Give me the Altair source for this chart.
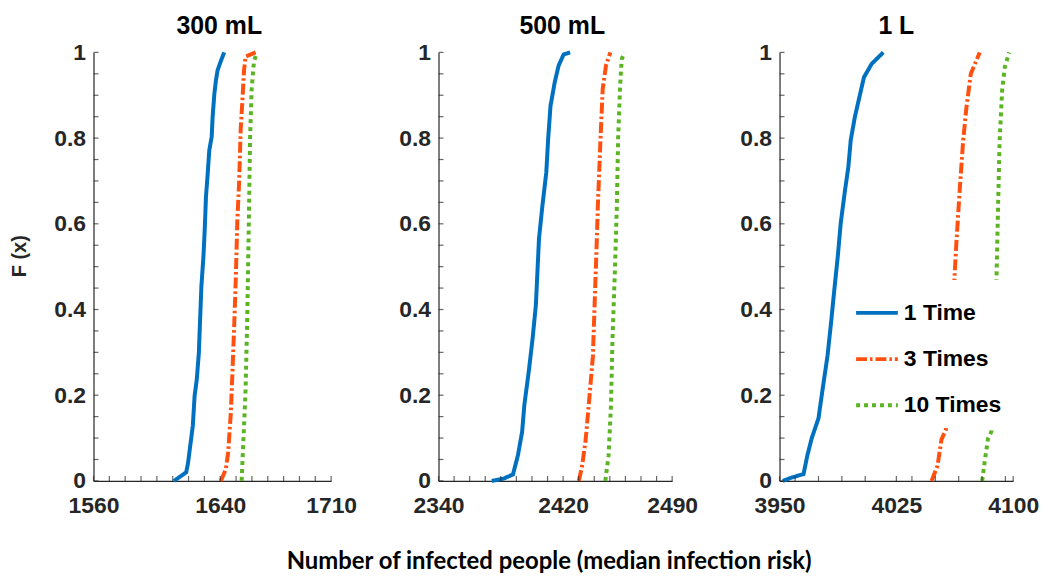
import altair as alt
import pandas as pd

# ---------------- data ----------------
panels = ["300 mL", "500 mL", "1 L"]
series = ["1 Time", "3 Times", "10 Times"]

# 300 mL
p1_one_x = [1610.8, 1618.5, 1619.6, 1622.7, 1623.8, 1625.2, 1626.5, 1627.3, 1628.1, 1629.4, 1630.2,
            1631.0, 1632.1, 1633.1, 1634.6, 1635.2, 1636.3, 1637.3, 1638.3, 1640.4, 1642.5]
p1_one_f = [0.0, 0.02, 0.04, 0.129, 0.198, 0.237, 0.299, 0.377, 0.454, 0.524, 0.586,
            0.663, 0.718, 0.772, 0.803, 0.85, 0.904, 0.935, 0.958, 0.98, 1.0]
p1_three_x = [1640.4, 1643.5, 1645.0, 1646.7, 1647.7, 1648.8, 1649.8, 1650.8, 1651.9, 1652.9, 1654.0,
              1655.0, 1656.0, 1662.3]
p1_three_f = [0.0, 0.027, 0.066, 0.16, 0.253, 0.361, 0.47, 0.609, 0.695, 0.819, 0.888,
              0.958, 0.99, 1.0]
p1_ten_x = [1653.5, 1656.0, 1657.1, 1658.1, 1658.8, 1659.8, 1661.3, 1663.3]
p1_ten_f = [0.0, 0.213, 0.39, 0.614, 0.795, 0.912, 0.98, 1.0]

# 500 mL
p2_one_x = [2374.2, 2381.5, 2387.8, 2391.0, 2393.7, 2395.1, 2397.9, 2400.4, 2402.5, 2403.5, 2404.5,
            2406.7, 2409.2, 2410.4, 2411.9, 2414.6, 2417.1, 2420.3, 2424.5]
p2_one_f = [0.0, 0.005, 0.015, 0.06, 0.115, 0.177, 0.254, 0.332, 0.41, 0.487, 0.565,
            0.642, 0.72, 0.798, 0.875, 0.93, 0.969, 0.995, 1.0]
p2_three_x = [2430.1, 2432.2, 2434.5, 2436.4, 2439.1, 2440.2, 2441.3, 2442.3, 2444.0, 2445.4, 2447.5,
              2450.3]
p2_three_f = [0.0, 0.035, 0.097, 0.175, 0.29, 0.41, 0.525, 0.642, 0.798, 0.914, 0.969, 1.0]
p2_ten_x = [2447.1, 2449.2, 2450.7, 2451.7, 2453.2, 2454.5, 2455.3, 2456.5, 2457.6, 2459.5]
p2_ten_f = [0.0, 0.06, 0.175, 0.332, 0.487, 0.642, 0.798, 0.914, 0.984, 1.0]

# 1 L
p3_one_x = [3952.1, 3957.9, 3965.4, 3967.9, 3970.7, 3975.0, 3977.7, 3980.8, 3983.1, 3985.2, 3987.4,
            3989.3, 3992.1, 3994.2, 3995.7, 3998.4, 4001.3, 4004.2, 4009.1, 4016.6]
p3_one_f = [0.0, 0.008, 0.016, 0.06, 0.1, 0.146, 0.215, 0.292, 0.37, 0.447, 0.524,
            0.602, 0.68, 0.733, 0.795, 0.85, 0.896, 0.942, 0.973, 1.0]
p3_three_x = [4047.6, 4051.4, 4054.0, 4056.8, 4059.5, 4062.1, 4063.6, 4065.7, 4067.9, 4070.0, 4072.8,
              4078.5]
p3_three_f = [0.0, 0.035, 0.097, 0.12, 0.3, 0.46, 0.56, 0.68, 0.795, 0.872, 0.95, 1.0]
p3_ten_x = [4080.1, 4081.7, 4083.9, 4086.0, 4088.0, 4089.2, 4090.3, 4091.3, 4092.9, 4094.6, 4097.4]
p3_ten_f = [0.0, 0.045, 0.1, 0.115, 0.3, 0.46, 0.64, 0.795, 0.91, 0.965, 1.0]

# axis ticks
x_domains = [[1560, 1710], [2340, 2490], [3950, 4100]]
x_major = [[1560, 1640, 1710], [2340, 2420, 2490], [3950, 4025, 4100]]
x_minor = [list(range(1560, 1711, 10)), list(range(2340, 2491, 10)),
           [3950, 3960, 3975, 3990, 4005, 4025, 4035, 4050, 4065, 4080, 4095, 4100]]
y_major = [0, 0.2, 0.4, 0.6, 0.8, 1]
y_minor = [round(i * 0.05, 2) for i in range(21)]

colors = ["#0070C0", "#FF5010", "#5AB423"]
dashes = [[1, 0], [11, 3, 2.5, 3], [4, 4]]

panel_data = [
    [(p1_one_x, p1_one_f), (p1_three_x, p1_three_f), (p1_ten_x, p1_ten_f)],
    [(p2_one_x, p2_one_f), (p2_three_x, p2_three_f), (p2_ten_x, p2_ten_f)],
    [(p3_one_x, p3_one_f), (p3_three_x, p3_three_f), (p3_ten_x, p3_ten_f)],
]
widths = [239, 235, 235]
HEIGHT = 431

LABEL_FONT = "Liberation Sans"
AX_COLOR = "#262626"

legend = alt.Legend(
    orient="none", legendX=65, legendY=229, title=None,
    symbolType="stroke", symbolSize=1764, symbolStrokeWidth=4,
    labelFont=LABEL_FONT, labelFontSize=23, labelFontWeight="bold", labelColor="black",
    fillColor="white", padding=10, rowPadding=11.5, labelOffset=4,
)


def make_panel(i):
    rows = []
    for s, (xs, fs) in zip(series, panel_data[i]):
        for k, (xv, fv) in enumerate(zip(xs, fs)):
            rows.append({"series": s, "x": xv, "F": fv, "idx": k})
    df = pd.DataFrame(rows)
    xscale = alt.Scale(domain=x_domains[i], nice=False, zero=False)
    yscale = alt.Scale(domain=[0, 1], nice=False)
    lg = legend if i == 2 else None
    main_x = alt.Axis(orient="bottom", values=x_major[i], ticks=False, tickSize=0, labelPadding=14,
                      domainColor=AX_COLOR, domainWidth=1.2, labelFont=LABEL_FONT, labelFontSize=23,
                      labelFontWeight="bold", labelColor=AX_COLOR, title=None, grid=False,
                      labelFlush=False, labelOverlap=False, format="d")
    y_kw = dict(orient="left", values=y_major, ticks=False, tickSize=0, labelPadding=8,
                domainColor=AX_COLOR, domainWidth=1.2, labelFont=LABEL_FONT, labelFontSize=23,
                labelFontWeight="bold", labelColor=AX_COLOR, grid=False, labelFlush=False,
                labelOverlap=False, format="~g")
    if i == 0:
        main_y = alt.Axis(title="F (x)", titleFont=LABEL_FONT, titleFontSize=20, titleFontWeight="bold",
                          titleColor=AX_COLOR, titlePadding=24, titleY=HEIGHT / 2 - 11, **y_kw)
    else:
        main_y = alt.Axis(title=None, **y_kw)
    lines = alt.Chart(df).mark_line(strokeWidth=4, strokeCap="butt").encode(
        x=alt.X("x:Q", scale=xscale, axis=main_x),
        y=alt.Y("F:Q", scale=yscale, axis=main_y),
        color=alt.Color("series:N", scale=alt.Scale(domain=series, range=colors), legend=lg),
        strokeDash=alt.StrokeDash("series:N", scale=alt.Scale(domain=series, range=dashes), legend=lg),
        detail="series:N",
        order="idx:Q",
    )
    # inward minor ticks along the bottom and left axes
    xt = alt.Chart(pd.DataFrame({"v": x_minor[i]})).mark_tick(
        orient="vertical", size=5, thickness=1.2, color=AX_COLOR, yOffset=-2.5
    ).encode(x=alt.X("v:Q", scale=xscale), y=alt.datum(0, scale=yscale))
    yt = alt.Chart(pd.DataFrame({"v": y_minor})).mark_tick(
        orient="horizontal", size=5, thickness=1.2, color=AX_COLOR, xOffset=2.5
    ).encode(y=alt.Y("v:Q", scale=yscale), x=alt.datum(x_domains[i][0], scale=xscale))
    title = alt.TitleParams(panels[i], font=LABEL_FONT, fontSize=25, fontWeight="bold", color="black",
                            anchor="middle", offset=3, dx=7 if i < 2 else 0)
    return alt.layer(lines, xt, yt).properties(width=widths[i], height=HEIGHT, title=title)


chart = alt.hconcat(make_panel(0), make_panel(1), make_panel(2), spacing=108, bounds="flush").resolve_legend(
    color="independent", strokeDash="independent"
).properties(
    title=alt.TitleParams("Number of infected people (median infection risk)", orient="bottom",
                          anchor="middle", font="Lato", fontSize=24, fontWeight="bold", color="black",
                          offset=33, dx=25),
    padding={"left": 2, "top": 4, "right": 5, "bottom": 2},
).configure_view(stroke=None)

chart.save("out.html", embed_options={"renderer": "svg", "actions": False})
